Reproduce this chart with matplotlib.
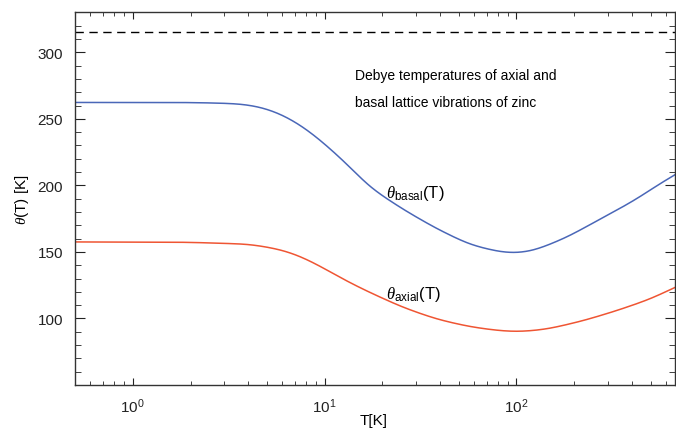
import numpy as np
import matplotlib
matplotlib.use("Agg")
import matplotlib.pyplot as plt
from matplotlib.ticker import LogLocator, MultipleLocator

plt.rcParams['font.family'] = ['Liberation Sans', 'DejaVu Sans']
plt.rcParams['mathtext.fontset'] = 'custom'
plt.rcParams['mathtext.rm'] = 'Liberation Sans'
plt.rcParams['mathtext.it'] = 'Liberation Serif:italic'

# values
T_basal = [0.5, 1.76, 2.5, 3.6, 4.58, 5.82, 7.41, 9.42, 11.5, 12.97, 17.2, 25.6,
           38.3, 57.0, 81.8, 96, 122, 182, 272, 406, 606, 670]
theta_basal = [262.3, 262.3, 262.0, 261.3, 259.1, 254.1, 245.8, 234.5, 223.3, 216.5,
               198.5, 182.0, 167.5, 155.5, 150.0, 149.0, 150.7, 160.8, 174.5,
               188.2, 204.5, 208.0]

T_axial = [0.5, 1.76, 2.23, 4.06, 5.82, 7.41, 9.42, 12.98, 17.2, 25.6, 38.3, 57.0,
           81.8, 104, 145, 222, 331, 496, 670]
theta_axial = [157.5, 157.3, 157.0, 155.8, 152.0, 147.0, 139.5, 128.2, 119.5, 108.3,
               99.5, 93.8, 90.75, 90.0, 92.0, 98.25, 105.75, 114.5, 123.3]

theta_limit = 315


# smooth in log T for drawing
def smooth(T, y):
    lt = np.log10(T)
    xs = np.linspace(lt[0], lt[-1], 600)
    ys = np.interp(xs, lt, y)
    for k in (11, 11):
        pad = np.pad(ys, k, mode='reflect', reflect_type='odd')
        ys = np.convolve(pad, np.ones(2 * k + 1) / (2 * k + 1), mode='same')[k:-k]
    return 10 ** xs, ys


fig = plt.figure(figsize=(6.76, 4.31), dpi=100)
ax = fig.add_axes([0.111, 0.1044, 0.8875, 0.8646])

x, y = smooth(T_basal, theta_basal)
ax.plot(x, y, color='#4a67b8', lw=1.1)
x, y = smooth(T_axial, theta_axial)
ax.plot(x, y, color='#ef5533', lw=1.1)
ax.axhline(theta_limit, color='black', lw=1.0, ls=(0, (6, 4)))

ax.set_xscale('log')
ax.set_xlim(0.5, 670)
ax.set_ylim(50, 330)
ax.yaxis.set_minor_locator(MultipleLocator(10))
ax.set_yticks([100, 150, 200, 250, 300])
ax.xaxis.set_major_locator(LogLocator(base=10, numticks=10))
ax.xaxis.set_minor_locator(LogLocator(base=10, subs=np.arange(2, 10), numticks=10))

ax.tick_params(which='both', direction='in', top=True, right=True, labelsize=11,
               colors='#222222')
ax.tick_params(axis='y', which='major', length=7.2, pad=8.5)
ax.tick_params(axis='y', which='minor', length=4)
ax.tick_params(axis='x', which='major', length=5, pad=8)
ax.tick_params(axis='x', which='minor', length=2.6)
for s in ax.spines.values():
    s.set_color('#333333')
    s.set_linewidth(1.0)

ax.set_xlabel('T[K]', fontsize=11, labelpad=0)
ax.xaxis.set_label_coords(0.498, -0.075)
ax.set_ylabel(r'$\mathit{\theta}$(T) [K]', fontsize=11, labelpad=5)

fig.text(355 / 676, 1 - 80 / 431, 'Debye temperatures of axial and', fontsize=10,
         va='baseline')
fig.text(355 / 676, 1 - 107 / 431, 'basal lattice vibrations of zinc', fontsize=10,
         va='baseline')
ax.text(21, 191, r'$\mathit{\theta}_{\rm basal}$(T)', fontsize=12)
ax.text(21, 115, r'$\mathit{\theta}_{\rm axial}$(T)', fontsize=12)

fig.savefig('out.png', dpi=100)
